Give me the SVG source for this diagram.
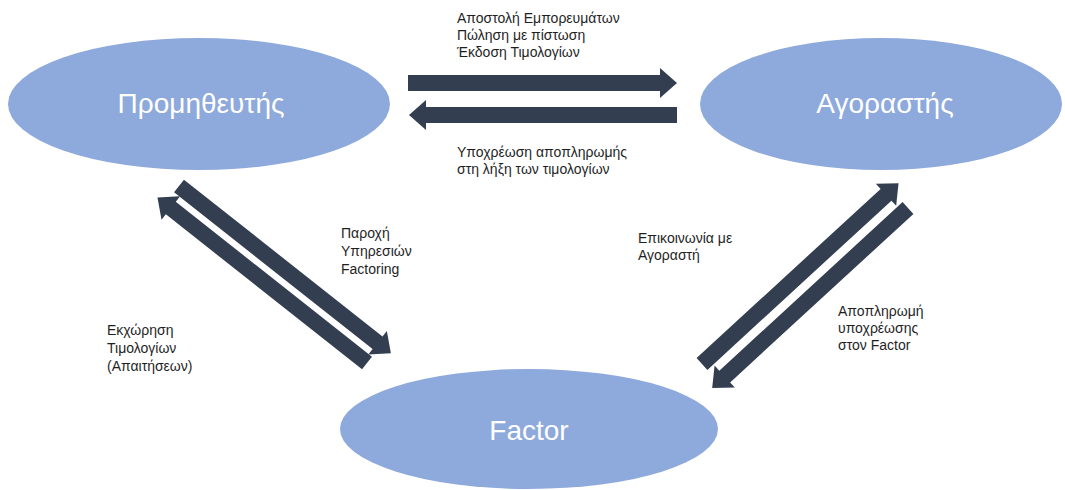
<svg xmlns="http://www.w3.org/2000/svg" width="1065" height="490" viewBox="0 0 1065 490">
<style>
.node{fill:#8EA9DB;}
.nlabel{font-family:"Liberation Sans",Arial,sans-serif;font-size:28px;fill:#ffffff;text-anchor:middle;}
.arrow{fill:#333F50;}
.lbl{font-family:"Liberation Sans",Arial,sans-serif;font-size:14px;fill:#1f1f1f;}
</style>
<rect width="1065" height="490" fill="#ffffff"/>
<g id="node-supplier">
<ellipse class="node" cx="199" cy="104" rx="191" ry="66"/>
<text class="nlabel" x="201" y="113">Προμηθευτής</text>
</g>
<g id="node-buyer">
<ellipse class="node" cx="881" cy="104" rx="181" ry="66"/>
<text class="nlabel" x="885" y="113">Αγοραστής</text>
</g>
<g id="node-factor">
<ellipse class="node" cx="529" cy="429" rx="189" ry="60"/>
<text class="nlabel" x="529" y="440">Factor</text>
</g>
<g id="connectors">
<polygon class="arrow" points="0,-8 252,-8 252,-15 269,0 252,15 252,8 0,8" transform="translate(408,83)"/>
<polygon class="arrow" points="0,-8 251,-8 251,-15 268,0 251,15 251,8 0,8" transform="translate(677,115) rotate(180)"/>
<polygon class="arrow" points="0,-8 253,-8 253,-15 270,0 253,15 253,8 0,8" transform="translate(179,186) rotate(38.3)"/>
<polygon class="arrow" points="0,-8 250,-8 250,-15 267,0 250,15 250,8 0,8" transform="translate(367,363) rotate(218.3)"/>
<polygon class="arrow" points="0,-8 250,-8 250,-15 267,0 250,15 250,8 0,8" transform="translate(702,364) rotate(-42.6)"/>
<polygon class="arrow" points="0,-8 249,-8 249,-15 266,0 249,15 249,8 0,8" transform="translate(908,208) rotate(137.4)"/>
</g>
<g id="labels">
<text class="lbl" x="457" y="23">Αποστολή Εμπορευμάτων</text>
<text class="lbl" x="457" y="40">Πώληση με πίστωση</text>
<text class="lbl" x="457" y="57">Έκδοση Τιμολογίων</text>
<text class="lbl" x="457" y="157">Υποχρέωση αποπληρωμής</text>
<text class="lbl" x="457" y="174">στη λήξη των τιμολογίων</text>
<text class="lbl" x="341" y="238">Παροχή</text>
<text class="lbl" x="341" y="256">Υπηρεσιών</text>
<text class="lbl" x="341" y="274">Factoring</text>
<text class="lbl" x="107" y="335">Εκχώρηση</text>
<text class="lbl" x="107" y="353">Τιμολογίων</text>
<text class="lbl" x="107" y="371">(Απαιτήσεων)</text>
<text class="lbl" x="638" y="243">Επικοινωνία με</text>
<text class="lbl" x="638" y="260">Αγοραστή</text>
<text class="lbl" x="838" y="316">Αποπληρωμή</text>
<text class="lbl" x="838" y="333">υποχρέωσης</text>
<text class="lbl" x="838" y="350">στον Factor</text>
</g>
</svg>
